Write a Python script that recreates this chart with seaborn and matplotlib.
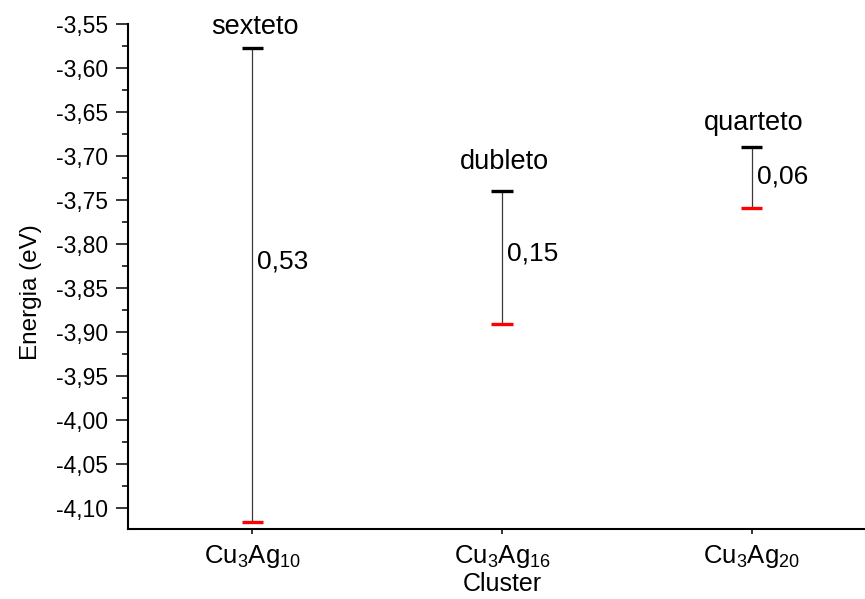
import math

import matplotlib
matplotlib.use("Agg")
import matplotlib.pyplot as plt
from matplotlib.ticker import MultipleLocator, AutoMinorLocator, FuncFormatter
import pandas as pd
import seaborn as sns

# Cluster labels and their positions on the x axis
clusters = ["Cu$_3$Ag$_{10}$", "Cu$_3$Ag$_{16}$", "Cu$_3$Ag$_{20}$"]
positions = [1, 2, 3]
# Spin multiplicity of each cluster
states = ["sexteto", "dubleto", "quarteto"]
# Upper (black) and lower (red) energy levels, eV
upper_level = [-3.577, -3.740, -3.690]
lower_level = [-4.116, -3.891, -3.759]

sns.set_theme(style="ticks")
plt.rcParams["font.family"] = ["Liberation Sans", "DejaVu Sans"]
plt.rcParams["mathtext.default"] = "regular"

fig = plt.figure(figsize=(8.65, 5.99), dpi=100)
ax = fig.add_axes([0.14763, 0.11636, 0.8656, 0.84357])

levels = pd.DataFrame({
    "pos": positions * 2,
    "energy": upper_level + lower_level,
    "cluster": clusters * 2,
    "kind": ["upper"] * 3 + ["lower"] * 3,
})

# Thin connectors between the two levels of each cluster
sns.lineplot(data=levels, x="pos", y="energy", units="cluster",
             estimator=None, sort=False, color="#3a3a3a", linewidth=0.9,
             ax=ax, legend=False, zorder=2)

# Short horizontal bars marking each level
sns.scatterplot(data=levels, x="pos", y="energy", hue="kind",
                palette={"upper": "black", "lower": "#ff0000"},
                marker="_", s=235, linewidth=2.4, ax=ax, legend=False,
                zorder=3)

# State names above the upper level
name_offsets = [9.6, 15.6, 12.5]
for p, top, name, off in zip(positions, upper_level, states, name_offsets):
    ax.annotate(name, xy=(p, top), xytext=(1.5, off), textcoords="offset points",
                ha="center", va="baseline", fontsize=19.5, color="black")

# Gap between the levels, written next to the connector
gap_offsets = [16.5, 3.0, 1.0]
for p, top, bot, off in zip(positions, upper_level, lower_level, gap_offsets):
    gap = math.floor((top - bot) * 100 + 1e-9) / 100
    ax.annotate(f"{gap:.2f}".replace(".", ","), xy=(p, (top + bot) / 2),
                xytext=(3.5, off), textcoords="offset points",
                ha="left", va="center", fontsize=19, color="black")

ax.set_xlim(0.5, 3.5)
ax.set_ylim(-4.1246, -3.55)
ax.set_xticks(positions)
ax.set_xticklabels(clusters)
ax.yaxis.set_major_locator(MultipleLocator(0.05))
ax.yaxis.set_minor_locator(AutoMinorLocator(2))
ax.yaxis.set_major_formatter(FuncFormatter(lambda v, _: f"{v:.2f}".replace(".", ",")))

ax.set_xlabel("Cluster", fontsize=18, color="black")
ax.set_ylabel("Energia (eV)", fontsize=17.5, color="black")
ax.xaxis.set_label_coords(0.5, -0.085)
ax.yaxis.set_label_coords(-0.115, 0.47)

for side in ("top", "right"):
    ax.spines[side].set_visible(False)
for side in ("left", "bottom"):
    ax.spines[side].set_linewidth(1.5)
    ax.spines[side].set_color("black")

ax.tick_params(axis="y", which="major", direction="out", length=8.4, width=1.1,
               labelsize=16.5, pad=5.5, colors="black")
ax.tick_params(axis="y", which="minor", direction="out", length=4.3, width=1.1,
               colors="black")
ax.tick_params(axis="x", which="major", direction="out", length=3.6, width=1.1,
               labelsize=18.5, pad=6, colors="black")

fig.savefig("out.png", dpi=100)
